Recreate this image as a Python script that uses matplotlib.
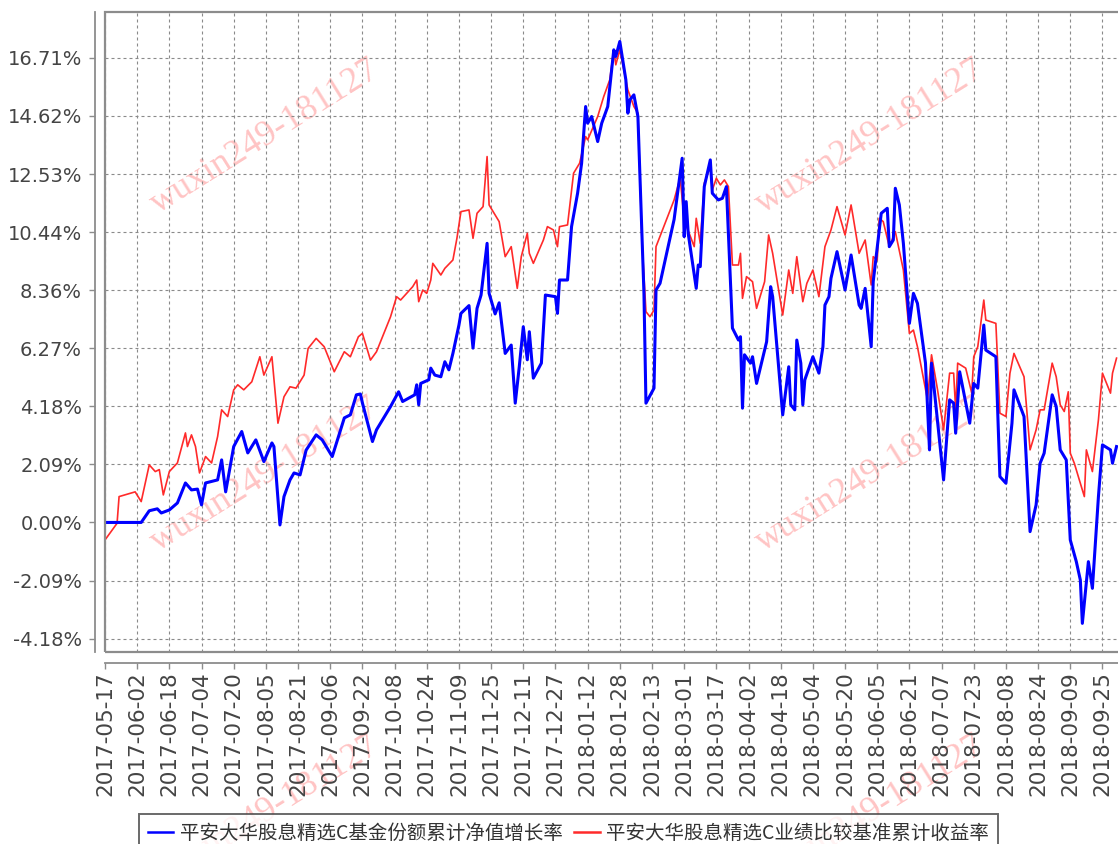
import numpy as np
import pandas as pd
import matplotlib
matplotlib.use("Agg")
import matplotlib.pyplot as plt
import matplotlib.dates as mdates
from matplotlib.patches import Rectangle

# cumulative growth (%) of the fund share NAV
blue_dates = [
    "2017-05-17", "2017-06-04", "2017-06-08", "2017-06-12", "2017-06-14", "2017-06-18", "2017-06-22", "2017-06-26", "2017-06-29", "2017-07-02",
    "2017-07-04", "2017-07-06", "2017-07-12", "2017-07-14", "2017-07-16", "2017-07-20", "2017-07-24", "2017-07-27", "2017-07-31", "2017-08-04",
    "2017-08-08", "2017-08-09", "2017-08-12", "2017-08-14", "2017-08-17", "2017-08-19", "2017-08-22", "2017-08-23", "2017-08-25", "2017-08-30",
    "2017-09-02", "2017-09-07", "2017-09-13", "2017-09-16", "2017-09-19", "2017-09-21", "2017-09-22", "2017-09-27", "2017-09-29", "2017-10-06",
    "2017-10-10", "2017-10-12", "2017-10-18", "2017-10-19", "2017-10-20", "2017-10-21", "2017-10-25", "2017-10-26", "2017-10-28", "2017-10-31",
    "2017-11-02", "2017-11-04", "2017-11-06", "2017-11-09", "2017-11-10", "2017-11-14", "2017-11-16", "2017-11-18", "2017-11-20", "2017-11-23",
    "2017-11-24", "2017-11-27", "2017-11-29", "2017-12-02", "2017-12-05", "2017-12-07", "2017-12-09", "2017-12-11", "2017-12-13", "2017-12-14",
    "2017-12-16", "2017-12-20", "2017-12-22", "2017-12-27", "2017-12-28", "2017-12-29", "2018-01-02", "2018-01-04", "2018-01-07", "2018-01-09",
    "2018-01-11", "2018-01-12", "2018-01-14", "2018-01-17", "2018-01-19", "2018-01-22", "2018-01-25", "2018-01-26", "2018-01-28", "2018-01-31",
    "2018-02-01", "2018-02-02", "2018-02-04", "2018-02-06", "2018-02-09", "2018-02-10", "2018-02-14", "2018-02-15", "2018-02-17", "2018-02-24",
    "2018-02-28", "2018-03-01", "2018-03-02", "2018-03-03", "2018-03-07", "2018-03-08", "2018-03-09", "2018-03-11", "2018-03-14", "2018-03-15",
    "2018-03-18", "2018-03-20", "2018-03-22", "2018-03-25", "2018-03-28", "2018-03-29", "2018-03-30", "2018-03-31", "2018-04-03", "2018-04-04",
    "2018-04-06", "2018-04-11", "2018-04-13", "2018-04-14", "2018-04-19", "2018-04-22", "2018-04-23", "2018-04-25", "2018-04-26", "2018-04-28",
    "2018-04-29", "2018-04-30", "2018-05-04", "2018-05-07", "2018-05-09", "2018-05-10", "2018-05-12", "2018-05-13", "2018-05-16", "2018-05-20",
    "2018-05-23", "2018-05-27", "2018-05-28", "2018-05-30", "2018-06-02", "2018-06-03", "2018-06-07", "2018-06-10", "2018-06-11", "2018-06-13",
    "2018-06-14", "2018-06-16", "2018-06-18", "2018-06-21", "2018-06-23", "2018-06-25", "2018-06-29", "2018-07-01", "2018-07-02", "2018-07-08",
    "2018-07-11", "2018-07-13", "2018-07-14", "2018-07-16", "2018-07-21", "2018-07-23", "2018-07-25", "2018-07-28", "2018-07-29", "2018-08-03",
    "2018-08-05", "2018-08-08", "2018-08-11", "2018-08-12", "2018-08-17", "2018-08-20", "2018-08-23", "2018-08-25", "2018-08-27", "2018-08-31",
    "2018-09-02", "2018-09-04", "2018-09-07", "2018-09-09", "2018-09-12", "2018-09-14", "2018-09-15", "2018-09-18", "2018-09-20", "2018-09-23",
    "2018-09-25", "2018-09-29", "2018-09-30", "2018-10-02"]
blue_vals = [
    0.00, 0.00, 0.42, 0.49, 0.34, 0.45, 0.70, 1.42, 1.17, 1.20,
    0.63, 1.42, 1.53, 2.25, 1.10, 2.73, 3.27, 2.50, 2.97, 2.19,
    2.86, 2.73, -0.09, 0.93, 1.53, 1.78, 1.71, 2.00, 2.60, 3.15,
    2.97, 2.37, 3.76, 3.87, 4.59, 4.62, 4.30, 2.91, 3.33, 4.17,
    4.70, 4.35, 4.59, 4.95, 4.23, 5.00, 5.13, 5.55, 5.30, 5.24,
    5.78, 5.49, 6.08, 7.10, 7.52, 7.80, 6.27, 7.70, 8.18, 10.04,
    8.24, 7.50, 7.90, 6.08, 6.38, 4.29, 5.60, 7.04, 5.85, 6.86,
    5.19, 5.73, 8.18, 8.12, 7.52, 8.72, 8.72, 10.64, 11.84, 12.92,
    14.96, 14.36, 14.60, 13.70, 14.36, 14.96, 17.00, 16.76, 17.30, 15.92,
    14.72, 15.20, 15.38, 14.60, 8.24, 4.29, 4.83, 8.36, 8.60, 10.90,
    13.10, 10.28, 11.54, 10.40, 8.42, 9.26, 9.20, 12.08, 13.04, 11.84,
    11.60, 11.66, 12.08, 6.99, 6.56, 6.68, 4.11, 6.03, 5.73, 5.96,
    5.00, 6.50, 8.48, 8.12, 3.87, 5.60, 4.23, 4.05, 6.56, 5.73,
    4.23, 5.13, 5.96, 5.37, 6.32, 7.82, 8.12, 8.78, 9.74, 8.36,
    9.62, 7.82, 7.70, 8.42, 6.32, 8.66, 11.12, 11.30, 9.92, 10.16,
    12.02, 11.42, 10.04, 7.16, 8.24, 7.88, 5.73, 2.61, 5.73, 1.53,
    4.41, 4.29, 3.21, 5.42, 3.57, 5.00, 4.83, 7.10, 6.20, 5.96,
    1.65, 1.41, 3.57, 4.77, 3.81, -0.33, 0.63, 2.13, 2.49, 4.59,
    4.17, 2.61, 2.25, -0.63, -1.41, -2.07, -3.63, -1.41, -2.37, 0.93,
    2.79, 2.61, 2.13, 2.73]

# cumulative return (%) of the benchmark
red_dates = [
    "2017-05-17", "2017-05-23", "2017-05-24", "2017-06-01", "2017-06-04", "2017-06-08", "2017-06-11", "2017-06-13", "2017-06-15", "2017-06-18",
    "2017-06-22", "2017-06-26", "2017-06-27", "2017-06-29", "2017-07-01", "2017-07-03", "2017-07-06", "2017-07-09", "2017-07-12", "2017-07-14",
    "2017-07-17", "2017-07-20", "2017-07-22", "2017-07-25", "2017-07-29", "2017-08-02", "2017-08-04", "2017-08-08", "2017-08-11", "2017-08-14",
    "2017-08-17", "2017-08-20", "2017-08-24", "2017-08-26", "2017-08-30", "2017-09-03", "2017-09-08", "2017-09-13", "2017-09-16", "2017-09-20",
    "2017-09-22", "2017-09-26", "2017-09-29", "2017-10-06", "2017-10-09", "2017-10-11", "2017-10-17", "2017-10-19", "2017-10-20", "2017-10-22",
    "2017-10-24", "2017-10-26", "2017-10-27", "2017-10-31", "2017-11-02", "2017-11-06", "2017-11-08", "2017-11-10", "2017-11-14", "2017-11-16",
    "2017-11-18", "2017-11-21", "2017-11-23", "2017-11-24", "2017-11-29", "2017-12-02", "2017-12-05", "2017-12-08", "2017-12-10", "2017-12-13",
    "2017-12-14", "2017-12-16", "2017-12-21", "2017-12-23", "2017-12-26", "2017-12-28", "2017-12-29", "2018-01-02", "2018-01-05", "2018-01-08",
    "2018-01-11", "2018-01-12", "2018-01-17", "2018-01-20", "2018-01-23", "2018-01-25", "2018-01-26", "2018-01-28", "2018-02-01", "2018-02-04",
    "2018-02-06", "2018-02-08", "2018-02-10", "2018-02-12", "2018-02-14", "2018-02-15", "2018-02-24", "2018-02-27", "2018-03-01", "2018-03-06",
    "2018-03-07", "2018-03-09", "2018-03-11", "2018-03-14", "2018-03-15", "2018-03-17", "2018-03-19", "2018-03-21", "2018-03-23", "2018-03-25",
    "2018-03-28", "2018-03-29", "2018-03-30", "2018-04-01", "2018-04-04", "2018-04-06", "2018-04-10", "2018-04-12", "2018-04-14", "2018-04-19",
    "2018-04-22", "2018-04-24", "2018-04-26", "2018-04-29", "2018-05-01", "2018-05-04", "2018-05-07", "2018-05-10", "2018-05-13", "2018-05-16",
    "2018-05-20", "2018-05-23", "2018-05-24", "2018-05-27", "2018-05-30", "2018-06-02", "2018-06-03", "2018-06-05", "2018-06-06", "2018-06-08",
    "2018-06-11", "2018-06-14", "2018-06-18", "2018-06-21", "2018-06-23", "2018-06-25", "2018-06-30", "2018-07-02", "2018-07-05", "2018-07-08",
    "2018-07-11", "2018-07-13", "2018-07-14", "2018-07-15", "2018-07-19", "2018-07-22", "2018-07-23", "2018-07-25", "2018-07-28", "2018-07-29",
    "2018-08-03", "2018-08-05", "2018-08-08", "2018-08-10", "2018-08-12", "2018-08-17", "2018-08-20", "2018-08-23", "2018-08-25", "2018-08-27",
    "2018-08-31", "2018-09-02", "2018-09-04", "2018-09-06", "2018-09-08", "2018-09-09", "2018-09-11", "2018-09-16", "2018-09-17", "2018-09-20",
    "2018-09-23", "2018-09-25", "2018-09-29", "2018-09-30", "2018-10-02"]
red_vals = [
    -0.63, -0.03, 0.93, 1.10, 0.75, 2.07, 1.83, 1.90, 0.99, 1.83,
    2.14, 3.22, 2.73, 3.15, 2.73, 1.78, 2.37, 2.14, 3.09, 4.05,
    3.81, 4.77, 4.95, 4.77, 5.06, 5.96, 5.30, 5.96, 3.57, 4.52,
    4.88, 4.83, 5.30, 6.26, 6.62, 6.32, 5.42, 6.14, 5.96, 6.68,
    6.80, 5.84, 6.14, 7.40, 8.12, 8.00, 8.48, 8.72, 7.94, 8.36,
    8.24, 8.72, 9.32, 8.90, 9.14, 9.44, 10.22, 11.18, 11.24, 10.22,
    11.12, 11.36, 13.16, 11.42, 10.82, 9.56, 9.92, 8.42, 9.56, 10.40,
    9.68, 9.32, 10.16, 10.64, 10.52, 9.92, 10.64, 10.70, 12.56, 12.92,
    13.88, 13.76, 14.60, 15.32, 15.92, 17.00, 16.46, 17.00, 15.56, 14.96,
    14.72, 10.16, 7.58, 7.40, 7.64, 9.92, 11.60, 12.40, 10.88, 9.92,
    10.94, 10.04, 12.20, 12.80, 11.96, 12.38, 12.14, 12.32, 12.08, 9.26,
    9.26, 9.68, 8.06, 8.84, 8.66, 7.70, 8.66, 10.34, 9.68, 7.46,
    9.08, 8.24, 9.56, 7.94, 8.60, 9.08, 8.12, 9.92, 10.52, 11.36,
    10.34, 11.42, 11.00, 9.68, 10.16, 8.54, 9.56, 9.44, 10.94, 10.82,
    9.92, 10.46, 9.08, 6.80, 6.92, 6.32, 4.41, 6.03, 4.77, 3.33,
    5.37, 5.37, 4.05, 5.73, 5.55, 4.65, 5.96, 6.32, 8.00, 7.28,
    7.16, 3.93, 3.81, 5.37, 6.08, 5.24, 2.61, 3.33, 4.05, 4.05,
    5.73, 5.24, 4.23, 3.99, 4.70, 2.49, 2.13, 0.93, 2.61, 1.83,
    3.69, 5.37, 4.65, 5.37, 5.91]

blue_label = "平安大华股息精选C基金份额累计净值增长率"
red_label = "平安大华股息精选C业绩比较基准累计收益率"

y_ticks = [-4.18, -2.09, 0.00, 2.09, 4.18, 6.27, 8.36, 10.44, 12.53, 14.62, 16.71]
x_tick_dates = pd.date_range("2017-05-17", "2018-09-25", freq="16D")
watermark = "wuxin249-181127"

W, H = 1118, 844
fig = plt.figure(figsize=(W / 100, H / 100), dpi=100, facecolor="white")
# plot area: left 105px, top 12px, bottom 652px, runs past the right edge
ax = fig.add_axes([105 / W, (H - 652) / H, 1020 / W, 640 / H])
ax.set_facecolor("none")
ax.set_zorder(1)

# pale watermarks behind everything
for cx in (265, 870):
    for cy in (137, 475, 813):
        fig.text(cx / W, 1 - cy / H, watermark, rotation=32, ha="center", va="center",
                 fontsize=26, family="Liberation Serif", color="#ffc4c4", zorder=0)

bd = pd.to_datetime(blue_dates)
rd = pd.to_datetime(red_dates)
ax.plot(rd, red_vals, color="#ff2a2a", lw=1.2, zorder=3, label=red_label)
ax.plot(bd, blue_vals, color="#0000ff", lw=2.2, zorder=4, label=blue_label)

x0 = mdates.date2num(pd.Timestamp("2017-05-17"))
ax.set_xlim(x0, x0 + 1020 / 2.011)
ax.set_ylim(-4.66, 18.36)

ax.set_yticks(y_ticks)
ax.set_yticklabels(["%.2f%%" % v for v in y_ticks])
ax.set_xticks(x_tick_dates)
ax.set_xticklabels([d.strftime("%Y-%m-%d") for d in x_tick_dates])

ax.grid(True, color="#8a8a8a", linestyle=(0, (2.7, 2.7)), linewidth=0.8)

for s in ("top", "right"):
    ax.spines[s].set_visible(False)
ax.spines["left"].set_position(("outward", 7.5))
ax.spines["bottom"].set_position(("outward", 8))
for s in ("left", "bottom"):
    ax.spines[s].set_color("#8c8c8c")
    ax.spines[s].set_linewidth(1.3)
ax.add_patch(Rectangle((0, 0), 1, 1, transform=ax.transAxes, fill=False,
                       edgecolor="#8c8c8c", lw=1.6, clip_on=False, zorder=5))

ax.tick_params(axis="both", direction="out", length=4, width=1, color="#8c8c8c",
               labelcolor="#444444")
ax.tick_params(axis="y", labelsize=14, pad=5)
ax.tick_params(axis="x", labelsize=15.5, pad=2, labelrotation=90)

leg = ax.legend(handles=ax.get_lines()[::-1], loc="upper left", ncol=2,
                bbox_to_anchor=(139 / W, 1 - 814 / H), bbox_transform=fig.transFigure,
                borderaxespad=0, frameon=True, fancybox=False, handlelength=1.3,
                handletextpad=0.35, columnspacing=0.6, borderpad=0.45,
                prop={"family": ["Noto Sans CJK SC", "DejaVu Sans"], "size": 14})
leg.get_frame().set_edgecolor("#444444")
leg.get_frame().set_linewidth(1.4)
for t in leg.get_texts():
    t.set_color("#333333")
for h in leg.get_lines():
    h.set_linewidth(1.8)

fig.savefig("out.png", dpi=100)
